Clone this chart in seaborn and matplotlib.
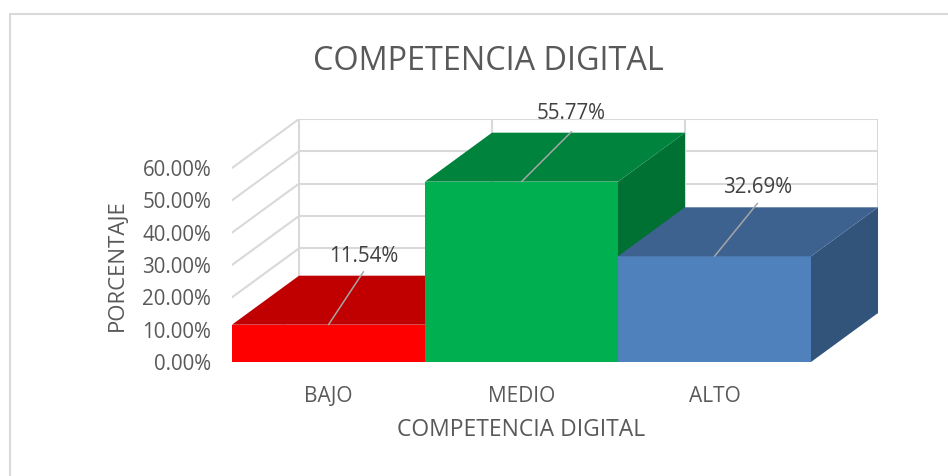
import matplotlib
matplotlib.use("Agg")
import matplotlib.pyplot as plt
import seaborn as sns
from matplotlib.patches import Polygon
from matplotlib.lines import Line2D

# ---- data ----
categorias = ["BAJO", "MEDIO", "ALTO"]
valores = [0.1154, 0.5577, 0.3269]
etiquetas = ["11.54%", "55.77%", "32.69%"]
yticks = [0.0, 0.1, 0.2, 0.3, 0.4, 0.5, 0.6]
titulo = "COMPETENCIA DIGITAL"
xlabel = "COMPETENCIA DIGITAL"
ylabel = "PORCENTAJE"

# ---- style ----
col_front = ["#FF0000", "#00B050", "#4F81BD"]
col_top = ["#C00000", "#00843D", "#3D628F"]
col_side = ["#A00000", "#007033", "#32537A"]
grid_col = "#D9D9D9"
txt_col = "#595959"
FONT = ["Open Sans", "DejaVu Sans"]

sns.set_theme(style="white")
plt.rcParams["font.family"] = FONT

W, H = 948, 476
fig = plt.figure(figsize=(W / 100, H / 100), dpi=100)
L, R, B, T = 232, 878, 362, 119
ax = fig.add_axes([L / W, 1 - B / H, (R - L) / W, (B - T) / H])

DX = 67 / 193.0
DY = 49 / 323.3

sns.barplot(x=categorias, y=valores, hue=categorias, palette=col_front,
            width=1.0, saturation=1, legend=False, edgecolor="none",
            linewidth=0, ax=ax)

ax.set_xlim(-0.5, 2.5 + DX)
ax.set_ylim(0, yticks[-1] + DY)

# back wall and side wall gridlines
x0, x1 = -0.5, 2.5
ytop = yticks[-1]
for v in yticks:
    ax.add_line(Line2D([x0 + DX, x1 + DX], [v + DY, v + DY], color=grid_col,
                       lw=1.5, zorder=0.5))
    ax.add_line(Line2D([x0, x0 + DX], [v, v + DY], color=grid_col,
                       lw=1.5, zorder=0.5))
for xb in [x0, x0 + 1, x0 + 2, x1]:
    ax.add_line(Line2D([xb + DX, xb + DX], [DY, ytop + DY], color=grid_col,
                       lw=1.5, zorder=0.5))

# 3D faces built from bar geometry
for i, p in enumerate(ax.patches[:len(valores)]):
    bx, bw, bh = p.get_x(), p.get_width(), p.get_height()
    z = 2 + i
    p.set_zorder(z)
    top = Polygon([(bx, bh), (bx + bw, bh), (bx + bw + DX, bh + DY), (bx + DX, bh + DY)],
                  closed=True, facecolor=col_top[i], edgecolor="none", zorder=z + 0.1)
    side = Polygon([(bx + bw, 0), (bx + bw + DX, DY), (bx + bw + DX, bh + DY), (bx + bw, bh)],
                   closed=True, facecolor=col_side[i], edgecolor="none", zorder=z + 0.1)
    ax.add_patch(side)
    ax.add_patch(top)

# data labels with leader lines (pixel offsets)
line_off = [(35, 53), (50, 50), (43, 53)]
text_off = [(35, 63), (50, 63), (43, 63)]
for i, p in enumerate(ax.patches[:len(valores)]):
    cx = p.get_x() + p.get_width() / 2
    v = p.get_height()
    ax.annotate("", xy=(cx, v), xytext=line_off[i], textcoords="offset pixels",
                arrowprops=dict(arrowstyle="-", color="#A6A6A6", lw=1.1,
                                shrinkA=0, shrinkB=0), zorder=10)
    ax.annotate(etiquetas[i], xy=(cx, v), xytext=text_off[i], textcoords="offset pixels",
                ha="center", va="baseline", fontsize=14.8, color="#404040", zorder=10)

# axes styling
for s in ax.spines.values():
    s.set_visible(False)
ax.set_yticks(yticks)
ax.set_yticklabels([f"{t*100:.2f}%" for t in yticks], fontsize=14.8, color=txt_col)
ax.tick_params(axis="y", length=0, pad=15)
ax.tick_params(axis="x", length=0, pad=17, labelsize=15, labelcolor=txt_col)
ax.set_xlabel("")
ax.set_ylabel("")
ax.grid(False)
ax.patch.set_alpha(0)

fig.text(488 / W, 1 - 61 / H, titulo, ha="center", va="center", fontsize=23.3, color=txt_col)
fig.text(521 / W, 1 - 430 / H, xlabel, ha="center", va="center", fontsize=16.5, color=txt_col)
fig.text(117 / W, 1 - 265 / H, ylabel, ha="center", va="center", rotation=90,
         fontsize=16, color=txt_col)

# chart border
fig.add_artist(Line2D([10 / W, 1], [1 - 14 / H, 1 - 14 / H], transform=fig.transFigure,
                      color=grid_col, lw=1.5))
fig.add_artist(Line2D([10 / W, 10 / W], [0, 1 - 14 / H], transform=fig.transFigure,
                      color=grid_col, lw=1.5))

fig.savefig("out.png", dpi=100)
